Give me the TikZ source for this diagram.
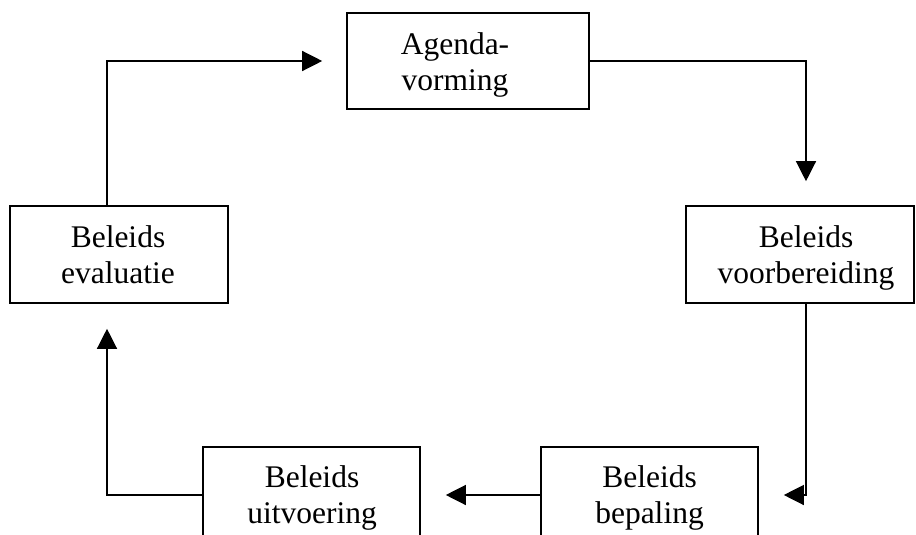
\documentclass[tikz,border=0pt]{standalone}
\usepackage{fontspec}
\setmainfont{Liberation Serif}
\usetikzlibrary{arrows.meta}

\tikzset{
  stage/.style={draw, line width=1.6pt, inner sep=0pt},
  stagetext/.style={inner sep=0pt, align=center,
    font=\fontsize{31.5}{36}\selectfont},
  conn/.style={line width=1.3pt,
    -{Triangle[length=20pt,width=20pt]}},
}

\begin{document}
\begin{tikzpicture}[x=1pt, y=-1pt]
  \useasboundingbox (0,0) rectangle (916,535);
  \clip (0,0) rectangle (916,535);

  % stage boxes of the policy cycle
  \node[stage, minimum width=242pt, minimum height=96pt] (ag) at (468,61) {};
  \node[stage, minimum width=228pt, minimum height=97pt] (vb) at (800,254.5) {};
  \node[stage, minimum width=218pt, minimum height=97pt] (ev) at (119,254.5) {};
  \node[stage, minimum width=217pt, minimum height=96pt] (ui) at (311.5,495) {};
  \node[stage, minimum width=217pt, minimum height=96pt] (bp) at (649.5,495) {};

  % box captions
  \node[stagetext] (agt) at (455,65.2)  {\strut Agenda-\\\strut vorming};
  \node[stagetext] (vbt) at (806,257.8) {\strut Beleids\\\strut voorbereiding};
  \node[stagetext] (evt) at (118,257.8) {\strut Beleids\\\strut evaluatie};
  \node[stagetext] (uit) at (312,497.8) {\strut Beleids\\\strut uitvoering};
  \node[stagetext] (bpt) at (649.5,497.8) {\strut Beleids\\\strut bepaling};

  % cycle connectors
  \draw[conn, shorten >=24pt] ([xshift=-12pt]ev.north) |- (ag.west);
  \draw[conn, shorten >=24pt] (ag.east) -| ([xshift=6pt]vb.north);
  \draw[conn, shorten >=25pt] ([xshift=6pt]vb.south) |- (bp.east);
  \draw[conn, shorten >=25pt] (bp.west) -- (ui.east);
  \draw[conn, shorten >=25pt] (ui.west) -| ([xshift=-12pt]ev.south);
\end{tikzpicture}
\end{document}
